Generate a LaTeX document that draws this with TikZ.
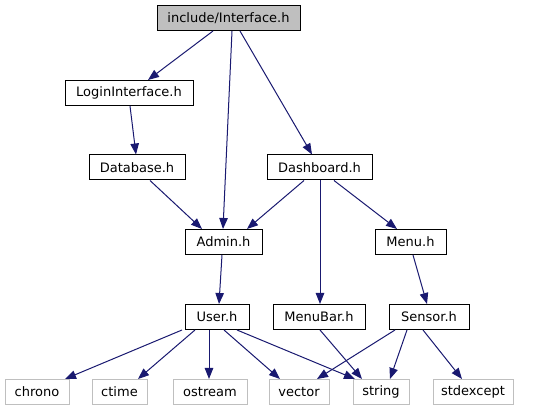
\documentclass[tikz,border=0pt]{standalone}
\usepackage{fontspec}
\setmainfont{DejaVu Sans}
\usetikzlibrary{arrows.meta}
\definecolor{edgeblue}{HTML}{191970}
\definecolor{rootgray}{HTML}{BFBFBF}
\definecolor{leafgray}{HTML}{BFBFBF}
\tikzset{
  hdr/.style={draw=black, line width=1pt, fill=white, inner sep=0pt, minimum height=25pt, font=\fontsize{13}{15}\selectfont},
  roothdr/.style={hdr, fill=rootgray},
  sysh/.style={draw=leafgray, line width=1pt, fill=white, inner sep=0pt, minimum height=25pt, font=\fontsize{13}{15}\selectfont},
  dep/.style={draw=edgeblue, line width=1pt, -{Triangle[length=11pt,width=8.5pt]}}
}
\begin{document}
\begin{tikzpicture}[x=1pt,y=-1pt]
\useasboundingbox (0,0) rectangle (542,411);
% nodes
\node[roothdr, minimum width=143pt] (iface) at (228.5,18) {include/Interface.h};
\node[hdr, minimum width=128pt] (login) at (129,93) {LoginInterface.h};
\node[hdr, minimum width=96pt] (db) at (137,167.5) {Database.h};
\node[hdr, minimum width=105pt] (dash) at (319.5,167.5) {Dashboard.h};
\node[hdr, minimum width=77pt] (admin) at (223.5,242) {Admin.h};
\node[hdr, minimum width=71pt] (menu) at (410.5,242) {Menu.h};
\node[hdr, minimum width=64pt] (user) at (217,317) {User.h};
\node[hdr, minimum width=92pt] (menubar) at (319,317) {MenuBar.h};
\node[hdr, minimum width=80pt] (sensor) at (429,317) {Sensor.h};
\node[sysh, minimum width=64pt] (chrono) at (37,392) {chrono};
\node[sysh, minimum width=55pt] (ctime) at (119.5,392) {ctime};
\node[sysh, minimum width=74pt] (ostream) at (210,392) {ostream};
\node[sysh, minimum width=60pt] (vector) at (299,392) {vector};
\node[sysh, minimum width=56pt] (string) at (381,392) {string};
\node[sysh, minimum width=80pt] (stdexcept) at (473,392) {stdexcept};
% edges
\draw[dep] ([xshift=-15.5pt]iface.south) -- ([xshift=19pt]login.north);
\draw[dep] ([xshift=3.5pt]iface.south) -- ([xshift=-0.5pt]admin.north);
\draw[dep] ([xshift=11.5pt]iface.south) -- ([xshift=-7.5pt]dash.north);
\draw[dep] ([xshift=1pt]login.south) -- ([xshift=-1pt]db.north);
\draw[dep] ([xshift=13pt]db.south) -- ([xshift=-21.5pt]admin.north);
\draw[dep] ([xshift=-15.5pt]dash.south) -- ([xshift=23.5pt]admin.north);
\draw[dep] ([xshift=0.5pt]dash.south) -- ([xshift=1pt]menubar.north);
\draw[dep] ([xshift=14.5pt]dash.south) -- ([xshift=-13.5pt]menu.north);
\draw[dep] ([xshift=2.5pt]menu.south) -- ([xshift=-2pt]sensor.north);
\draw[dep] ([xshift=-1.5pt]admin.south) -- ([xshift=2pt]user.north);
\draw[dep] ([xshift=-35pt]user.south) -- ([xshift=28pt]chrono.north);
\draw[dep] ([xshift=-22pt]user.south) -- ([xshift=18.5pt]ctime.north);
\draw[dep] ([xshift=-8pt]user.south) -- ([xshift=-1pt]ostream.north);
\draw[dep] ([xshift=7pt]user.south) -- ([xshift=-19pt]vector.north);
\draw[dep] ([xshift=20pt]user.south) -- ([xshift=-26pt]string.north);
\draw[dep] ([xshift=1pt]menubar.south) -- ([xshift=-19pt]string.north);
\draw[dep] ([xshift=-34pt]sensor.south) -- ([xshift=18pt]vector.north);
\draw[dep] ([xshift=-22pt]sensor.south) -- ([xshift=9pt]string.north);
\draw[dep] ([xshift=-6pt]sensor.south) -- ([xshift=-11pt]stdexcept.north);
\end{tikzpicture}
\end{document}
